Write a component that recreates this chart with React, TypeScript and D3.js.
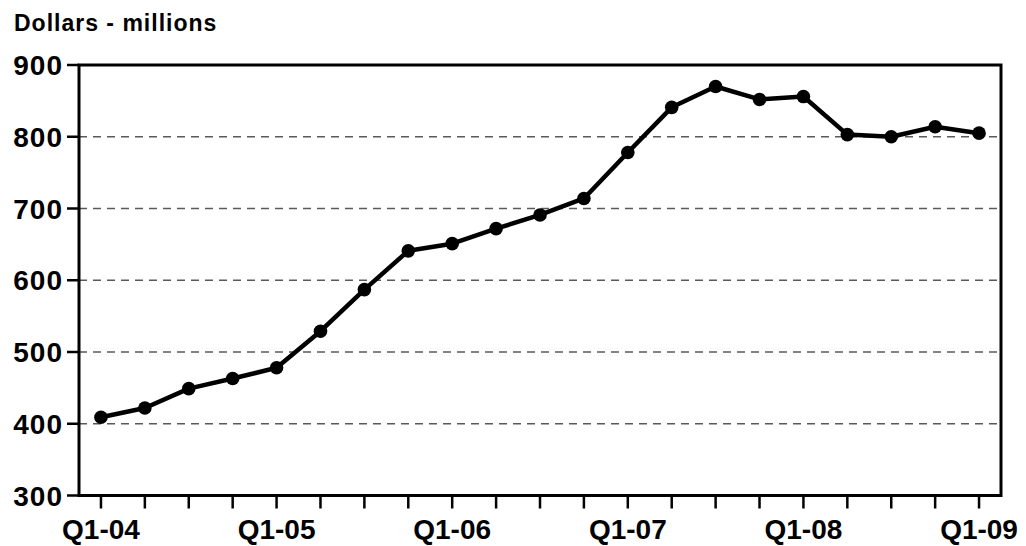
import React from "react";
import * as d3 from "d3";

const quarters: string[] = [
  "Q1-04", "Q2-04", "Q3-04", "Q4-04",
  "Q1-05", "Q2-05", "Q3-05", "Q4-05",
  "Q1-06", "Q2-06", "Q3-06", "Q4-06",
  "Q1-07", "Q2-07", "Q3-07", "Q4-07",
  "Q1-08", "Q2-08", "Q3-08", "Q4-08",
  "Q1-09",
];
const values: number[] = [
  409, 422, 449, 463, 478, 529, 587, 641, 651, 672, 691, 714,
  778, 841, 870, 852, 856, 803, 800, 814, 805,
];
const labeledQuarters: string[] = ["Q1-04", "Q1-05", "Q1-06", "Q1-07", "Q1-08", "Q1-09"];
const yTicks: number[] = [300, 400, 500, 600, 700, 800, 900];
const gridTicks: number[] = [400, 500, 600, 700, 800];
const yTitle = "Dollars - millions";

const W = 1026;
const H = 546;
const left = 79;
const right = 1001;
const top = 65;
const bottom = 495.5;
const FONT = "'Liberation Sans', Arial, Helvetica, sans-serif";

export default function App() {
  const x = d3.scalePoint<string>().domain(quarters).range([left, right]).padding(0.5);
  const y = d3.scaleLinear().domain([300, 900]).range([bottom, top]);
  const line = d3
    .line<number>()
    .x((_, i) => x(quarters[i]) as number)
    .y((d) => y(d));

  return (
    <svg
      width={W}
      height={H}
      style={{ position: "absolute", left: 0, top: 0, background: "#fff" }}
      fontFamily={FONT}
    >
      <text x={14} y={31} fontSize={23} fontWeight="bold" letterSpacing={1} fill="#000">
        {yTitle}
      </text>

      {gridTicks.map((t) => (
        <line
          key={"g" + t}
          x1={left}
          x2={right}
          y1={y(t)}
          y2={y(t)}
          stroke="#5a5a5a"
          strokeWidth={1.3}
          strokeDasharray="8,6"
        />
      ))}

      {yTicks.map((t) => (
        <g key={"y" + t}>
          <line x1={67} x2={left} y1={y(t)} y2={y(t)} stroke="#000" strokeWidth={2.5} />
          <text
            x={63}
            y={y(t)}
            dy="0.36em"
            textAnchor="end"
            fontSize={28}
            fontWeight="bold"
            letterSpacing={1}
            fill="#000"
          >
            {t}
          </text>
        </g>
      ))}

      {quarters.map((q) => (
        <line
          key={"xt" + q}
          x1={x(q)}
          x2={x(q)}
          y1={bottom}
          y2={bottom + 13}
          stroke="#000"
          strokeWidth={2.5}
        />
      ))}
      {labeledQuarters.map((q) => (
        <text
          key={"xl" + q}
          x={x(q)}
          y={539}
          textAnchor="middle"
          fontSize={28}
          fontWeight="bold"
          fill="#000"
        >
          {q}
        </text>
      ))}

      <rect
        x={left}
        y={top}
        width={right - left}
        height={bottom - top}
        fill="none"
        stroke="#000"
        strokeWidth={3}
      />

      <path d={line(values) || ""} fill="none" stroke="#000" strokeWidth={4.5} strokeLinejoin="round" />
      {values.map((v, i) => (
        <circle key={"p" + i} cx={x(quarters[i])} cy={y(v)} r={6.8} fill="#000" />
      ))}
    </svg>
  );
}
